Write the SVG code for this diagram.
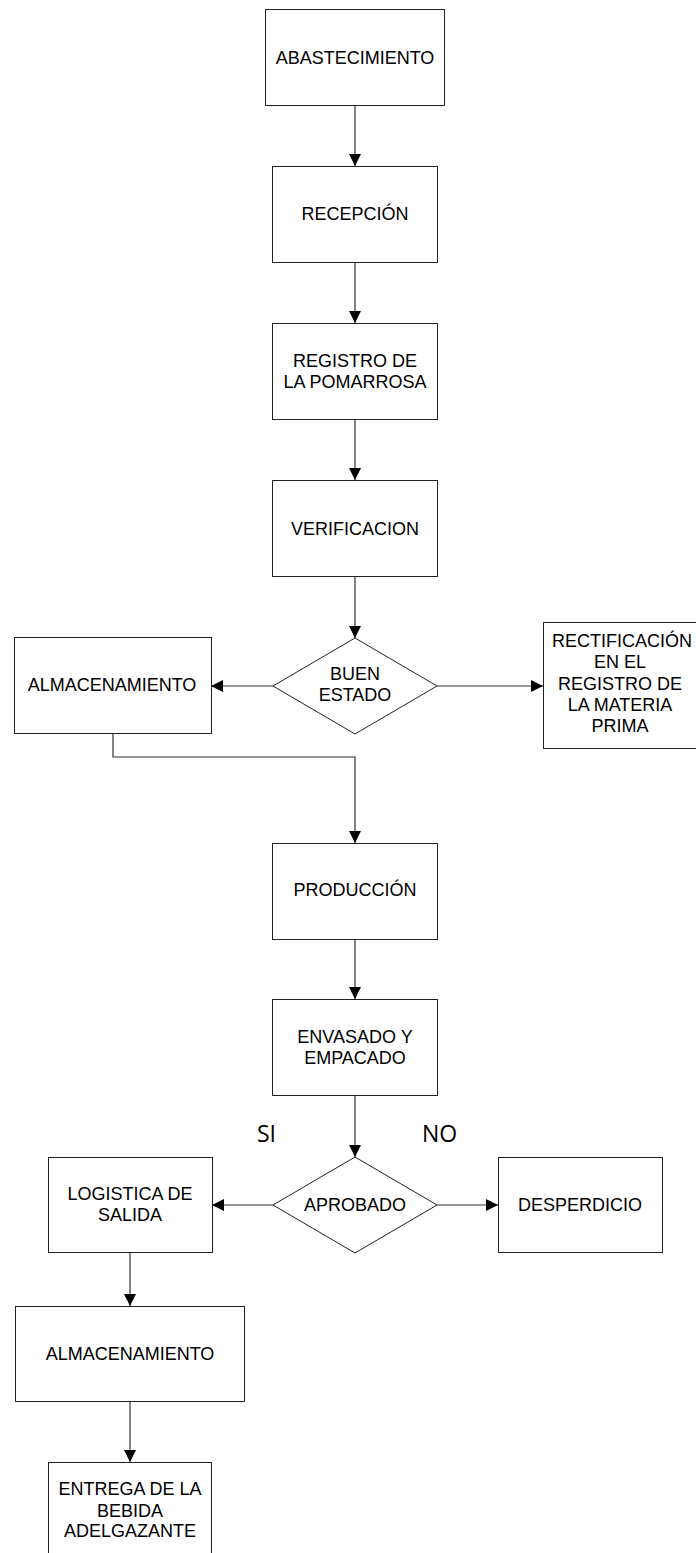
<svg xmlns="http://www.w3.org/2000/svg" width="696" height="1553" viewBox="0 0 696 1553">
<style>
.box{fill:#fff;stroke:#222;stroke-width:1}
.t{font-family:"Liberation Sans",Arial,sans-serif;font-size:18px;fill:#000;text-anchor:middle}
.lbl{font-family:"Open Sans","Noto Sans",sans-serif;font-size:23px;fill:#000}
.c{fill:none;stroke:#333;stroke-width:1.2}
</style>
<defs>
<marker id="ah" markerUnits="userSpaceOnUse" markerWidth="12" markerHeight="14" viewBox="0 0 12 14" refX="12" refY="6" orient="auto">
<path d="M0,0 L12,6 L0,12 Z" fill="#000"/>
</marker>
</defs>
<rect width="696" height="1553" fill="#fff"/>
<g id="connectors">
<path class="c" d="M355,105 V166" marker-end="url(#ah)"/>
<path class="c" d="M355,262 V323" marker-end="url(#ah)"/>
<path class="c" d="M355,419 V480" marker-end="url(#ah)"/>
<path class="c" d="M355,577 V638" marker-end="url(#ah)"/>
<path class="c" d="M273,686 H211" marker-end="url(#ah)"/>
<path class="c" d="M437,686 H543" marker-end="url(#ah)"/>
<path class="c" d="M113,733 V757 H355 V843" marker-end="url(#ah)"/>
<path class="c" d="M355,939 V999" marker-end="url(#ah)"/>
<path class="c" d="M355,1095 V1157" marker-end="url(#ah)"/>
<path class="c" d="M273,1205 H212" marker-end="url(#ah)"/>
<path class="c" d="M437,1205 H498" marker-end="url(#ah)"/>
<path class="c" d="M130,1253 V1306" marker-end="url(#ah)"/>
<path class="c" d="M130,1401 V1462" marker-end="url(#ah)"/>
</g>
<g id="abastecimiento">
<rect class="box" x="265.5" y="9.5" width="179" height="96"/>
<text class="t" x="355" y="64">ABASTECIMIENTO</text>
</g>
<g id="recepcion">
<rect class="box" x="272.5" y="166.5" width="165" height="96"/>
<text class="t" x="355" y="220">RECEPCIÓN</text>
</g>
<g id="registro">
<rect class="box" x="272.5" y="323.5" width="165" height="96"/>
<text class="t" x="355" y="367">REGISTRO DE</text>
<text class="t" x="355" y="387.5">LA POMARROSA</text>
</g>
<g id="verificacion">
<rect class="box" x="272.5" y="480.5" width="165" height="96"/>
<text class="t" x="355" y="535">VERIFICACION</text>
</g>
<g id="buen-estado">
<polygon class="box" points="355,638 437,686 355,734 273,686"/>
<text class="t" x="355" y="680">BUEN</text>
<text class="t" x="355" y="700.5">ESTADO</text>
</g>
<g id="almacenamiento1">
<rect class="box" x="14.5" y="637.5" width="197" height="96"/>
<text class="t" x="112" y="691">ALMACENAMIENTO</text>
</g>
<g id="rectificacion">
<rect class="box" x="543.5" y="622.5" width="160" height="126"/>
<text class="t" x="622" y="647">RECTIFICACIÓN</text>
<text class="t" x="620" y="668">EN EL</text>
<text class="t" x="620" y="689.5">REGISTRO DE</text>
<text class="t" x="620" y="711">LA MATERIA</text>
<text class="t" x="620" y="732">PRIMA</text>
</g>
<g id="produccion">
<rect class="box" x="272.5" y="843.5" width="165" height="96"/>
<text class="t" x="355" y="896">PRODUCCIÓN</text>
</g>
<g id="envasado">
<rect class="box" x="272.5" y="999.5" width="165" height="96"/>
<text class="t" x="355" y="1043">ENVASADO Y</text>
<text class="t" x="355" y="1063.5">EMPACADO</text>
</g>
<g id="aprobado">
<polygon class="box" points="355,1157 437,1205 355,1253 273,1205"/>
<text class="t" x="355" y="1211">APROBADO</text>
</g>
<g id="labels">
<text class="lbl" x="257" y="1142">SI</text>
<text class="lbl" x="422" y="1142">NO</text>
</g>
<g id="logistica">
<rect class="box" x="48.5" y="1157.5" width="164" height="95"/>
<text class="t" x="130" y="1200">LOGISTICA DE</text>
<text class="t" x="130" y="1221">SALIDA</text>
</g>
<g id="desperdicio">
<rect class="box" x="498.5" y="1157.5" width="164" height="95"/>
<text class="t" x="580" y="1211">DESPERDICIO</text>
</g>
<g id="almacenamiento2">
<rect class="box" x="15.5" y="1306.5" width="229" height="95"/>
<text class="t" x="130" y="1359.5">ALMACENAMIENTO</text>
</g>
<g id="entrega">
<rect class="box" x="48.5" y="1462.5" width="163" height="120"/>
<text class="t" x="130" y="1495">ENTREGA DE LA</text>
<text class="t" x="130" y="1516.5">BEBIDA</text>
<text class="t" x="130" y="1537">ADELGAZANTE</text>
</g>
</svg>
